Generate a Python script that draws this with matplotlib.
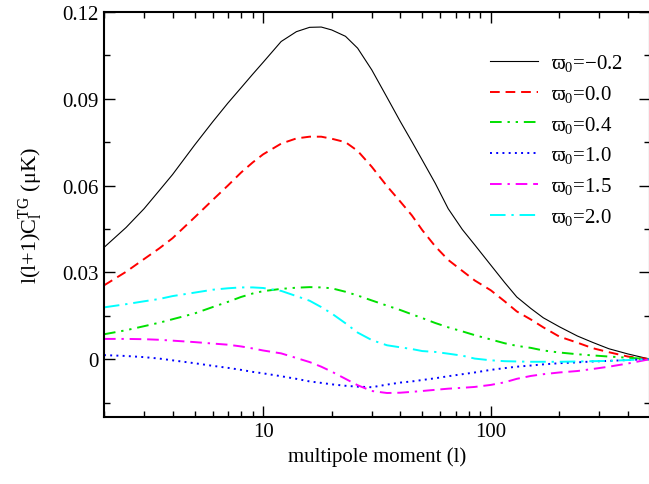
import matplotlib
matplotlib.use("Agg")
import matplotlib.pyplot as plt
from matplotlib.ticker import FuncFormatter, FixedLocator, MultipleLocator, LogLocator

plt.rcParams['font.family'] = ['Liberation Serif', 'DejaVu Serif']
plt.rcParams['mathtext.fontset'] = 'custom'
plt.rcParams['mathtext.rm'] = 'Liberation Serif'
plt.rcParams['mathtext.it'] = 'Liberation Serif:italic'
plt.rcParams['font.size'] = 15

ell = [2, 2.5, 3, 3.5, 4, 5, 6, 7, 8, 9, 10, 12, 14, 16, 18, 20, 23, 26, 30, 35, 40, 45, 50,
       57, 65, 75, 85, 100, 115, 130, 150, 170, 200, 240, 280, 330, 400, 500]

# l(l+1)C_l^TG for each varpi_0
cl_m02 = [0.0386, 0.0455, 0.0520, 0.0583, 0.0638, 0.0740, 0.0820, 0.0885, 0.0938, 0.0985, 0.1026,
          0.1098, 0.1132, 0.1147, 0.1148, 0.1138, 0.1116, 0.1075, 0.1000, 0.0905, 0.0822, 0.0752,
          0.0688, 0.0608, 0.0520, 0.0448, 0.0395, 0.0325, 0.0265, 0.0215, 0.0175, 0.0143, 0.0112,
          0.0080, 0.0058, 0.0036, 0.0018, 0.0]
cl_00 = [0.0255, 0.0302, 0.0346, 0.0383, 0.0418, 0.0490, 0.0550, 0.0600, 0.0645, 0.0680, 0.0708,
         0.0745, 0.0763, 0.0769, 0.0769, 0.0762, 0.0750, 0.0720, 0.0665, 0.0598, 0.0545, 0.0497,
         0.0446, 0.0390, 0.0343, 0.0305, 0.0272, 0.0238, 0.0200, 0.0165, 0.0137, 0.0110, 0.0078,
         0.0057, 0.0038, 0.0024, 0.0009, 0.0]
cl_04 = [0.0086, 0.0100, 0.0114, 0.0126, 0.0138, 0.0158, 0.0180, 0.0198, 0.0215, 0.0227, 0.0235,
         0.0243, 0.0247, 0.0249, 0.0248, 0.0245, 0.0233, 0.0220, 0.0203, 0.0185, 0.0170, 0.0155,
         0.0142, 0.0125, 0.0110, 0.0096, 0.0083, 0.0068, 0.0055, 0.0046, 0.0039, 0.0030, 0.0023,
         0.0017, 0.0013, 0.0009, 0.0005, 0.0]
cl_10 = [0.0014, 0.0011, 0.0007, 0.0002, -0.0004, -0.0014, -0.0023, -0.0030, -0.0037, -0.0044, -0.0049,
         -0.0059, -0.0068, -0.0077, -0.0082, -0.0087, -0.0092, -0.0095, -0.0097, -0.0088, -0.0081, -0.0077,
         -0.0072, -0.0066, -0.0059, -0.0052, -0.0046, -0.0037, -0.0031, -0.0026, -0.0022, -0.0018, -0.0014,
         -0.0011, -0.0008, -0.0006, -0.0003, 0.0]
cl_15 = [0.0070, 0.0070, 0.0069, 0.0067, 0.0064, 0.0059, 0.0054, 0.0050, 0.0044, 0.0037, 0.0030,
         0.0020, 0.0004, -0.0010, -0.0026, -0.0043, -0.0068, -0.0090, -0.0110, -0.0117, -0.0116, -0.0113,
         -0.0110, -0.0106, -0.0102, -0.0099, -0.0096, -0.0089, -0.0080, -0.0068, -0.0058, -0.0052, -0.0046,
         -0.0041, -0.0034, -0.0026, -0.0015, 0.0]
cl_20 = [0.0179, 0.0190, 0.0200, 0.0208, 0.0218, 0.0230, 0.0240, 0.0245, 0.0248, 0.0248, 0.0246,
         0.0236, 0.0218, 0.0202, 0.0180, 0.0158, 0.0124, 0.0092, 0.0066, 0.0048, 0.0041, 0.0035,
         0.0028, 0.0025, 0.0019, 0.0012, 0.0002, -0.0004, -0.0007, -0.0008, -0.0009, -0.0009, -0.0009,
         -0.0008, -0.0007, -0.0006, -0.0003, 0.0]

labels = ['ϖ$_\\mathrm{0}$=\u22120.2', 'ϖ$_\\mathrm{0}$=0.0', 'ϖ$_\\mathrm{0}$=0.4',
          'ϖ$_\\mathrm{0}$=1.0', 'ϖ$_\\mathrm{0}$=1.5', 'ϖ$_\\mathrm{0}$=2.0']
yticks = [0, 0.03, 0.06, 0.09, 0.12]
ytick_labels = ['0', '0.03', '0.06', '0.09', '0.12']

fig = plt.figure(figsize=(6.49, 4.85), dpi=100)
ax = fig.add_axes([0.1602, 0.1381, 0.8413, 0.8351])

ax.plot(ell, cl_m02, color='black', lw=0.8, ls='-', label=labels[0])
ax.plot(ell, cl_00, color='red', lw=1.4, ls=(0, (5, 3)), label=labels[1])
ax.plot(ell, cl_04, color='#00e000', lw=1.4, ls=(0, (6, 3, 1.2, 3, 1.2, 3)), label=labels[2])
ax.plot(ell, cl_10, color='blue', lw=1.4, ls=(0, (1, 2.2)), label=labels[3])
ax.plot(ell, cl_15, color='magenta', lw=1.4, ls=(0, (6, 3, 1.2, 3, 6, 3)), label=labels[4])
ax.plot(ell, cl_20, color='cyan', lw=1.4, ls=(0, (8, 3, 1.2, 3)), label=labels[5])

ax.set_xscale('log')
ax.set_xlim(2, 500)
ax.set_ylim(-0.02, 0.12)
ax.xaxis.set_major_locator(LogLocator(base=10))
ax.xaxis.set_minor_locator(LogLocator(base=10, subs=range(2, 10)))
ax.xaxis.set_major_formatter(FuncFormatter(lambda v, p: '%g' % v))
ax.xaxis.set_minor_formatter(FuncFormatter(lambda v, p: ''))
ax.yaxis.set_major_locator(FixedLocator(yticks))
ax.set_yticklabels(ytick_labels)
ax.yaxis.set_minor_locator(MultipleLocator(0.015))

ax.tick_params(which='both', direction='in', top=True, right=True, labelsize=15)
ax.tick_params(which='major', length=8, width=1)
ax.tick_params(which='minor', length=4, width=1)
for s in ax.spines.values():
    s.set_linewidth(1.5)

ax.set_xlabel('multipole moment (l)', fontsize=15, labelpad=4)
ax.set_ylabel('l(l+1)C$_\\mathrm{l}^\\mathrm{TG}$ (μK)', fontsize=16, labelpad=13)

ax.legend(loc='upper right', bbox_to_anchor=(1.0, 0.968), frameon=False, fontsize=15,
          handlelength=2.3, handletextpad=0.6, labelspacing=0.47, borderaxespad=0.9)

fig.savefig('out.png', dpi=100)
